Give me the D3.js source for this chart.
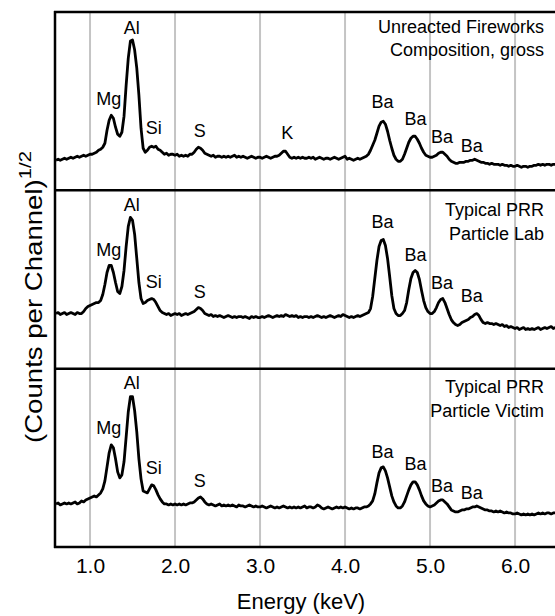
<!DOCTYPE html>
<html><head><meta charset="utf-8">
<script src="https://cdn.jsdelivr.net/npm/d3@7"></script>
<style>
body{margin:0;background:#fff}
svg{display:block}
text{font-family:"Liberation Sans",Arial,Helvetica,sans-serif;fill:#000}
</style>
</head><body>
<svg id="chart" width="555" height="616"></svg>
<script>
// ---- DATA ----
// spectrum channels: energy (keV) of channel i = energyStart + i*energyStep
const energyStart = 0.6, energyStep = 0.025;
const xTicks = [1, 2, 3, 4, 5, 6];
const xTickLabels = ["1.0", "2.0", "3.0", "4.0", "5.0", "6.0"];
const panelTitles = [
  ["Unreacted Fireworks", "Composition, gross"],
  ["Typical PRR", "Particle Lab"],
  ["Typical PRR", "Particle Victim"]
];
// (counts per channel)^1/2, arbitrary units
const unreacted = [
  30,31,30,31,32,31,32,33,
  32,33,34,33,34,35,34,35,
  36,36,37,38,40,41,43,47,
  60,70,75,72,63,56,54,58,
  74,105,132,149,150,140,122,95,
  62,42,38,40,43,44,43,44,
  41,40,38,36,37,35,36,36,
  35,36,34,35,34,35,34,36,
  36,38,41,43,42,40,37,36,
  35,34,35,33,34,34,33,34,
  33,34,33,34,35,33,34,33,
  34,33,32,33,34,33,32,33,
  33,32,33,34,33,32,33,34,
  34,35,37,39,39,36,33,32,
  33,32,33,32,33,32,32,33,
  32,33,31,32,33,32,31,32,
  32,31,32,33,32,31,32,33,
  34,31,32,31,30,31,32,31,
  32,33,34,36,40,45,50,57,
  64,68,69,66,59,50,42,35,
  31,29,29,31,36,42,48,52,
  54,54,51,47,42,38,35,34,
  33,33,34,35,37,38,38,36,
  34,31,29,28,27,27,28,28,
  28,29,29,30,30,31,30,29,
  28,28,27,27,26,27,26,26,
  26,25,26,25,25,24,25,24,
  24,25,24,23,24,24,23,24,
  24,25,25,26,25,26,25,26,
  26,25,26,26
];
const prrLab = [
  55,56,54,55,56,54,55,56,
  55,54,56,55,55,57,60,62,
  63,64,65,66,66,68,74,84,
  96,103,103,96,86,77,75,82,
  98,122,142,151,148,134,110,86,
  70,65,66,68,69,70,69,66,
  62,58,56,55,54,55,53,54,
  55,54,55,53,54,55,54,55,
  56,57,59,61,60,58,55,54,
  53,54,52,53,52,53,52,51,
  52,53,52,51,52,51,52,52,
  51,52,51,50,52,51,52,51,
  51,52,51,52,53,52,51,52,
  53,52,53,52,54,53,52,53,
  52,53,51,52,51,52,52,51,
  52,51,52,53,52,51,52,51,
  52,53,52,51,52,53,52,54,
  53,52,51,52,51,52,53,52,
  53,54,55,56,60,72,90,108,
  122,128,129,123,110,92,73,60,
  55,53,53,55,58,66,79,90,
  96,98,96,89,78,68,61,57,
  55,55,57,61,66,69,70,66,
  60,54,49,46,44,43,44,46,
  47,48,49,51,52,54,55,53,
  49,46,45,46,45,45,44,45,
  44,43,44,42,43,41,42,41,
  40,41,39,40,41,39,40,39,
  40,39,40,41,39,40,41,40,
  41,42,40,41
];
const prrVictim = [
  43,44,42,43,44,43,44,43,
  44,45,43,44,46,45,47,48,
  49,50,51,50,52,54,58,66,
  80,94,102,99,88,75,69,72,
  85,110,135,150,150,136,115,88,
  68,56,55,54,58,62,61,57,
  52,48,45,43,43,42,43,42,
  43,42,43,42,43,42,43,44,
  44,45,47,49,50,48,45,43,
  42,43,42,41,42,43,41,42,
  41,42,41,42,41,40,42,41,
  41,40,41,42,41,40,41,40,
  40,41,40,39,40,41,40,39,
  40,39,40,41,40,39,40,39,
  40,39,40,39,40,41,39,40,
  40,39,40,42,41,39,38,39,
  40,39,38,39,40,39,40,39,
  40,39,38,39,38,39,39,38,
  39,40,40,41,43,46,53,64,
  74,79,80,76,69,60,51,45,
  41,39,39,41,45,51,57,62,
  65,65,62,57,51,46,43,41,
  40,41,42,44,46,47,47,45,
  43,40,37,36,35,35,36,37,
  37,38,38,39,40,40,41,40,
  39,38,37,37,36,36,35,36,
  35,36,35,34,35,34,34,33,
  33,34,33,32,33,32,33,32,
  33,32,33,34,33,34,33,34,
  34,33,34,34
];
const spectra = [unreacted, prrLab, prrVictim];
// peak annotations: element, energy (keV), label height (same units as spectra)
const peakNames = ["Mg", "Al", "Si", "S", "K", "Ba", "Ba", "Ba", "Ba"];
const peakEnergies = [1.22, 1.49, 1.75, 2.29, 3.32, 4.44, 4.83, 5.14, 5.49];
const peakLabelHeights = [
  [92, 163, 63, 60, 58, 89, 72, 54, 45],
  [119, 164, 87, 77, null, 147, 114, 86, 73],
  [119, 164, 79, 66, null, 95, 83, 61, 54]
];
const yMax = 178;

// ---- LAYOUT ----
const L = 55, R = 555, T = 12, B = 547;
const svg = d3.select("#chart");

const x = d3.scaleLinear().domain([0.588, 6.47]).range([L, R]);
const band = d3.scaleBand().domain([0, 1, 2]).range([T, B]).paddingInner(0);

svg.append("defs").append("clipPath").attr("id", "plotclip")
  .append("rect").attr("x", L).attr("y", T).attr("width", R - L).attr("height", B - T);

// grid lines
svg.append("g").selectAll("line").data(xTicks).join("line")
  .attr("x1", d => x(d)).attr("x2", d => x(d))
  .attr("y1", T).attr("y2", B)
  .attr("stroke", "#c4c4c4").attr("stroke-width", 2);

// spectra
const line = d3.line()
  .x((d, i) => x(energyStart + i * energyStep));

const titleOffsets = [20.5, 26, 24.5];
spectra.forEach((vals, p) => {
  const y0 = band(p), y1 = y0 + band.bandwidth();
  const y = d3.scaleLinear().domain([0, yMax]).range([y1, y0]);
  svg.append("path")
    .datum(vals)
    .attr("clip-path", "url(#plotclip)")
    .attr("d", line.y(d => y(d)))
    .attr("fill", "none").attr("stroke", "#000")
    .attr("stroke-width", 2.8).attr("stroke-linejoin", "round");

  // peak labels
  const g = svg.append("g").style("font-size", "18px").attr("text-anchor", "middle");
  peakNames.forEach((nm, k) => {
    const h = peakLabelHeights[p][k];
    if (h == null) return;
    g.append("text").attr("x", x(peakEnergies[k])).attr("y", y(h))
      .attr("dy", "0.36em").text(nm);
  });

  // panel title
  const tg = svg.append("g").style("font-size", "18px").attr("text-anchor", "end");
  panelTitles[p].forEach((s, k) => {
    tg.append("text").attr("x", 544).attr("y", y0 + titleOffsets[p] + k * 23.5).text(s);
  });
});

// frame lines
const hLines = [T, band(1), band(2), B];
svg.append("g").selectAll("line").data(hLines).join("line")
  .attr("x1", L - 1).attr("x2", R).attr("y1", d => d).attr("y2", d => d)
  .attr("stroke", "#000").attr("stroke-width", 2.5);
svg.append("line").attr("x1", L).attr("x2", L).attr("y1", T - 1).attr("y2", B + 1)
  .attr("stroke", "#000").attr("stroke-width", 2.5);

// x axis
const xAxis = d3.axisBottom(x).tickValues(xTicks)
  .tickFormat((d, i) => xTickLabels[i]).tickSize(0).tickPadding(11);
const ax = svg.append("g").attr("transform", `translate(0,${B})`).call(xAxis);
ax.select(".domain").remove();
ax.selectAll("text").style("font-size", "21px").style("font-family", '"Liberation Sans",Arial,sans-serif').attr("fill", "#000");

svg.append("text").attr("x", 301).attr("y", 609).attr("text-anchor", "middle")
  .style("font-size", "22px").text("Energy (keV)");

// y label
const yl = svg.append("text").attr("transform", "translate(41.5,443) rotate(-90) scale(1.2,1)")
  .attr("text-anchor", "start").style("font-size", "23px");
yl.append("tspan").text("(Counts per Channel)");
yl.append("tspan").attr("dy", "-0.6em").style("font-size", "17px").text("1/2");
</script>
</body></html>
